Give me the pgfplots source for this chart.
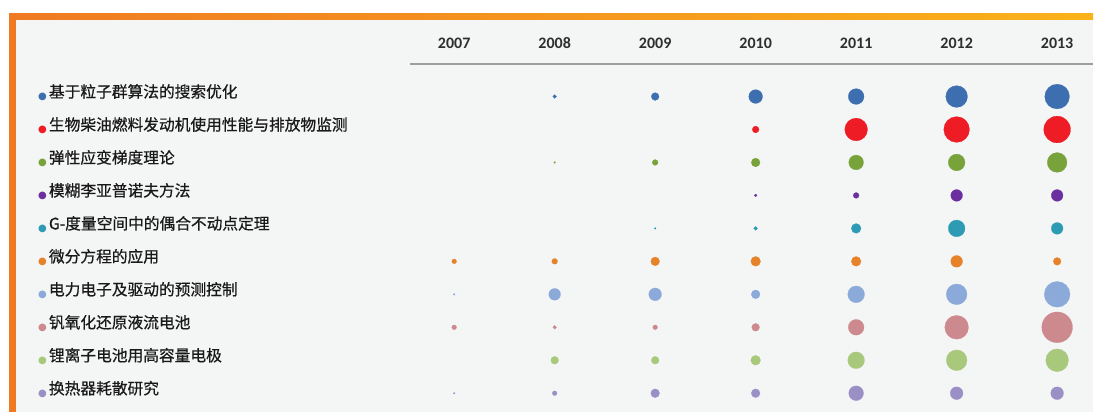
\documentclass[border=0pt]{standalone}
\usepackage{pgfplots}
\pgfplotsset{compat=1.18}
\usepackage{fontspec}
\newfontfamily\cjk[FakeBold=0.6]{Noto Sans CJK SC}
\newfontfamily\carl{Carlito}
\newfontfamily\dejavu{DejaVu Sans}
\definecolor{c1}{HTML}{3D6FB0}
\definecolor{c2}{HTML}{EE1C24}
\definecolor{c3}{HTML}{78A23A}
\definecolor{c4}{HTML}{6B2FA0}
\definecolor{c5}{HTML}{2E9BB5}
\definecolor{c6}{HTML}{E5822A}
\definecolor{c7}{HTML}{8BA9D9}
\definecolor{c8}{HTML}{CC8A8E}
\definecolor{c9}{HTML}{A8C97B}
\definecolor{c10}{HTML}{9B90C6}
\definecolor{panel}{HTML}{F4F5F5}
\definecolor{orA}{HTML}{F07A22}
\definecolor{orB}{HTML}{FAB21A}
\newcommand{\lab}[2]{\textcolor{#1}{\raisebox{-1.6pt}{\dejavu\fontsize{7.5}{8}\selectfont ●}}\hspace{1.6pt}#2}
\pgfplotsset{bub/.style={scatter, only marks, mark=*,
  mark options={line width=0.2pt},
  scatter/use mapped color={draw=#1, fill=#1},
  visualization depends on={0.375*\thisrow{d}-0.1 \as \msize},
  visualization depends on={\thisrow{o} \as \mop},
  scatter/@pre marker code/.append style={/tikz/mark size=\msize, /tikz/fill opacity=\mop, /tikz/draw opacity=\mop}}}
\begin{document}
\begin{tikzpicture}
\begin{axis}[
  scale only axis, width=820.5pt, height=309pt,
  xmin=2002.482, xmax=2013.357, ymin=-1.924, ymax=10.561, y dir=reverse,
  clip=false,
  axis line style={draw=none}, major tick length=0pt,
  axis background/.style={fill=panel},
  xtick={2007,2008,2009,2010,2011,2012,2013},
  xticklabels={2007,2008,2009,2010,2011,2012,2013},
  xticklabel pos=right,
  xticklabel style={font=\carl\bfseries\fontsize{12}{12}\selectfont, text=black!82, anchor=center, yshift=-32.25pt},
  ytick={1,2,3,4,5,6,7,8,9,10},
  yticklabels={\lab{c1}{基于粒子群算法的搜索优化},
    \lab{c2}{生物柴油燃料发动机使用性能与排放物监测},
    \lab{c3}{弹性应变梯度理论},
    \lab{c4}{模糊李亚普诺夫方法},
    \lab{c5}{G-度量空间中的偶合不动点定理},
    \lab{c6}{微分方程的应用},
    \lab{c7}{电力电子及驱动的预测控制},
    \lab{c8}{钒氧化还原液流电池},
    \lab{c9}{锂离子电池用高容量电极},
    \lab{c10}{换热器耗散研究}},
  yticklabel style={font=\cjk\fontsize{11.8}{14}\selectfont, text=black!90, anchor=west, xshift=25pt, yshift=3pt},
]
\fill[white] (rel axis cs:0,1) rectangle (rel axis cs:1,0.9684);
\fill[white] (rel axis cs:0,0) rectangle (rel axis cs:0.0082,1);
\shade[left color=orA, right color=orB] (rel axis cs:0.0082,0.9684) rectangle (rel axis cs:1,0.9539);
\fill[orA] (rel axis cs:0.0082,0.9684) rectangle (rel axis cs:0.0146,0);
\draw[color=black!38, line width=1.5pt] (rel axis cs:0.3748,0.8459) -- (rel axis cs:1,0.8459);

\addplot[bub=c1] table {
x y d o
2008 1 4 1
2009 1 8 1
2010 1 14 1
2011 1 16 1
2012 1 22 1
2013 1 25 1
};
\addplot[bub=c2] table {
x y d o
2010 2 7 1
2011 2 23 1
2012 2 26 1
2013 2 27 1
};
\addplot[bub=c3] table {
x y d o
2008 3 2 0.5
2009 3 6 1
2010 3 9 1
2011 3 15 1
2012 3 17 1
2013 3 20 1
};
\addplot[bub=c4] table {
x y d o
2010 4 3 1
2011 4 6 1
2012 4 12 1
2013 4 12 1
};
\addplot[bub=c5] table {
x y d o
2009 5 2 0.4
2010 5 4 1
2011 5 10 1
2012 5 17 1
2013 5 12 1
};
\addplot[bub=c6] table {
x y d o
2007 6 5 0.9
2008 6 6 1
2009 6 9 1
2010 6 10 1
2011 6 10 1
2012 6 12 1
2013 6 8 1
};
\addplot[bub=c7] table {
x y d o
2007 7 2 0.6
2008 7 12 1
2009 7 13 1
2010 7 9 1
2011 7 17 1
2012 7 21 1
2013 7 26 1
};
\addplot[bub=c8] table {
x y d o
2007 8 5 0.2
2008 8 4 0.2
2009 8 5 1
2010 8 8 1
2011 8 16 1
2012 8 24 1
2013 8 31 1
};
\addplot[bub=c9] table {
x y d o
2008 9 8 1
2009 9 8 1
2010 9 10 1
2011 9 17 1
2012 9 21 1
2013 9 23 1
};
\addplot[bub=c10] table {
x y d o
2007 10 2 0.5
2008 10 5 1
2009 10 9 1
2010 10 9 1
2011 10 15 1
2012 10 13 1
2013 10 13 1
};
\end{axis}
\end{tikzpicture}
\end{document}
